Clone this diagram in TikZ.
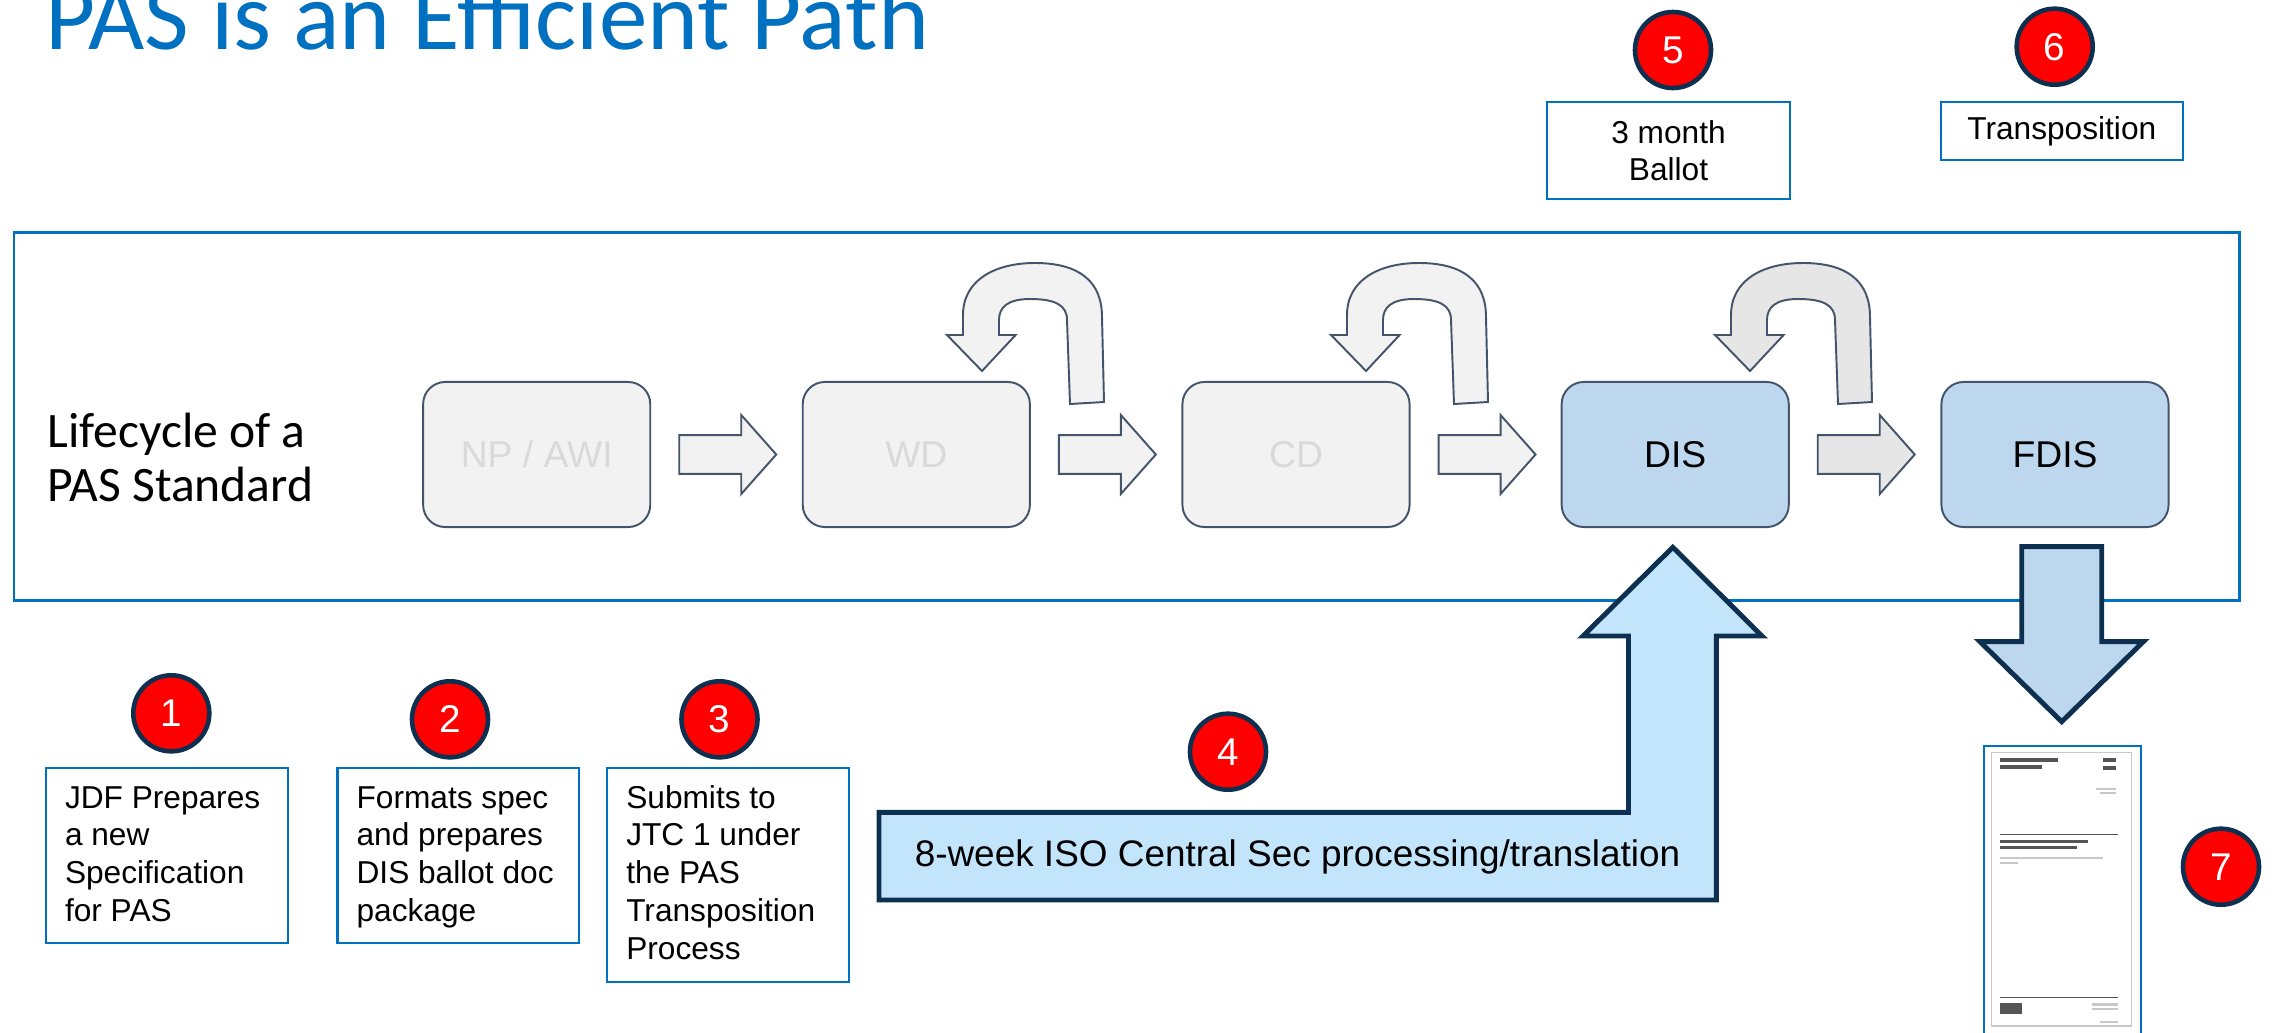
\documentclass[tikz,border=0pt]{standalone}
\usepackage{fontspec}
\setmainfont{Liberation Sans}
\newfontfamily\calib{Carlito}
\usetikzlibrary{calc}
\definecolor{titleblue}{HTML}{0070C0}
\definecolor{boxblue}{HTML}{0070C0}
\definecolor{slate}{HTML}{44546A}
\definecolor{navy}{HTML}{0E3050}
\definecolor{lgray}{HTML}{F2F2F2}
\definecolor{mgray}{HTML}{E6E6E6}
\definecolor{txtgray}{HTML}{D9D9D9}
\definecolor{paleblue}{HTML}{BDD7EE}
\definecolor{skyblue}{HTML}{C3E5FC}
\definecolor{numred}{HTML}{FF0000}
\definecolor{docgray}{HTML}{555555}
\definecolor{docfaint}{HTML}{C8C8C8}
\newcommand\stagearrow[2]{\draw[garrow,fill=#2] ($(#1.east)+(28,-19.3)$) -- ++(62,0) -- ++(0,-20.2) -- ++(35,39.5) -- ++(-35,39.5) -- ++(0,-20.2) -- ++(-62,0) -- cycle;}
\newcommand\uturnarrow[2]{\draw[garrow,fill=#2,shift={(#1,0)}] (1070,404) -- (1067,320) .. controls (1067,305) and (1055,299) .. (1030,299) .. controls (1008,299) and (999,307) .. (999,320) -- (999,335) -- (1015.6,335) -- (982,371) -- (947,335) -- (963,335) -- (963,315) .. controls (963,280) and (995,263) .. (1035,263) .. controls (1080,263) and (1102,282) .. (1102,317) -- (1104,402) -- cycle;}
\begin{document}
\begin{tikzpicture}[x=0.01cm,y=-0.01cm,
 stage/.style={draw=slate,line width=0.55pt,rounded corners=6.3pt,minimum width=2.27cm,minimum height=1.45cm,inner sep=0pt,font=\fontsize{10.6}{12}\selectfont},
 gstage/.style={stage,fill=lgray,text=txtgray},
 bstage/.style={stage,fill=paleblue,text=black},
 garrow/.style={draw=slate,line width=0.55pt,line join=miter},
 numc/.style={circle,draw=navy,line width=1.3pt,fill=numred,text=white,minimum size=0.76cm,inner sep=0pt,font=\fontsize{11}{13}\selectfont},
 note/.style={draw=boxblue,line width=0.6pt,inner sep=0pt},
 notetext/.style={anchor=base west,inner sep=0pt,font=\fontsize{9}{10.8}\selectfont},
 bigarrow/.style={draw=navy,line width=1.4pt,line join=miter},
 docbar/.style={fill=docgray},
 docfaintbar/.style={fill=docfaint}
]
\clip (0,0) rectangle (2275,1033);
\fill[white] (0,0) rectangle (2275,1033);

% title
\node[anchor=base west,inner sep=0pt,text=titleblue,font=\calib\fontsize{27.6}{31}\selectfont] (title) at (45,49) {PAS is an Efficient Path};

% frame
\draw[boxblue,line width=0.85pt] (14,232.7) rectangle (2239.5,600.7);

\node[anchor=base west,inner sep=0pt,font=\calib\fontsize{14.1}{15.6}\selectfont] (life) at (47,447) {\begin{tabular}[t]{@{}l@{}}Lifecycle of a\\PAS Standard\end{tabular}};

% stages
\node[gstage] (np) at (536.7,454.5) {NP / AWI};
\node[gstage] (wd) at (916.3,454.5) {WD};
\node[gstage] (cd) at (1296,454.5) {CD};
\node[bstage] (dis) at (1675.2,454.5) {DIS};
\node[bstage] (fdis) at (2055,454.5) {FDIS};

\stagearrow{np}{lgray}
\stagearrow{wd}{lgray}
\stagearrow{cd}{lgray}
\stagearrow{dis}{mgray}

\uturnarrow{0}{lgray}
\uturnarrow{384}{lgray}
\uturnarrow{768}{mgray}

% top notes
\node[numc] (n5) at (1673,50) {5};
\node[note,minimum width=2.43cm,minimum height=0.973cm,align=center,font=\fontsize{9}{10.5}\selectfont] (b5) at (1668.5,150.4) {3 month\\Ballot};
\node[numc] (n6) at (2054.7,46.7) {6};
\node[note,minimum width=2.415cm,minimum height=0.583cm,font=\fontsize{9}{10.5}\selectfont] (b6) at (2061.8,130.9) {Transposition};

% bottom notes
\node[numc] (n1) at (171.3,713.3) {1};
\node[note,anchor=north west,minimum width=2.416cm,minimum height=1.747cm] (b1) at (44.8,767.3) {};
\node[notetext] (t1) at (64.3,808) {\begin{tabular}[t]{@{}l@{}}JDF Prepares\\a new\\Specification\\for PAS\end{tabular}};

\node[numc] (n2) at (450,719.3) {2};
\node[note,anchor=north west,minimum width=2.41cm,minimum height=1.747cm] (b2) at (336.4,767.3) {};
\node[notetext] (t2) at (355.9,808) {\begin{tabular}[t]{@{}l@{}}Formats spec\\and prepares\\DIS ballot doc\\package\end{tabular}};

\node[numc] (n3) at (719.5,719.3) {3};
\node[note,anchor=north west,minimum width=2.418cm,minimum height=2.134cm] (b3) at (606,767.3) {};
\node[notetext] (t3) at (625.6,808) {\begin{tabular}[t]{@{}l@{}}Submits to\\JTC 1 under\\the PAS\\Transposition\\Process\end{tabular}};

% L-shaped arrow to DIS
\draw[bigarrow,fill=skyblue] (879,812.3) -- (1628.5,812.3) -- (1628.5,636) -- (1583,636) -- (1672.8,547.3) -- (1762,636) -- (1716.4,636) -- (1716.4,900) -- (879,900) -- cycle;
\node[font=\fontsize{10.5}{12}\selectfont,inner sep=0pt] (t4) at (1297.5,857) {8-week ISO Central Sec processing/translation};
\node[numc] (n4) at (1228,751.7) {4};

% down arrow from FDIS
\draw[bigarrow,fill=paleblue] (2021.7,546.7) -- (2101.7,546.7) -- (2101.7,641.7) -- (2143.3,641.7) -- (2061.7,721.7) -- (1980,641.7) -- (2021.7,641.7) -- cycle;

% document
\node[draw=boxblue,line width=0.5pt,fill=white,minimum width=1.567cm,minimum height=3.1cm,anchor=north west,inner sep=0pt] (doc) at (1983.3,745) {};
\draw[docfaint,line width=0.4pt] (1991.7,752.7) rectangle (2131.7,1026);
\fill[docbar] (2000,758) rectangle (2058,761.5);
\fill[docbar] (2000,765) rectangle (2042,768.5);
\fill[docbar] (2103,758) rectangle (2116,762);
\fill[docbar] (2103,766) rectangle (2116,770);
\fill[docfaintbar] (2096,788) rectangle (2116,790);
\fill[docfaintbar] (2100,792) rectangle (2116,794);
\fill[docgray] (2000,834) rectangle (2118,835.2);
\fill[docbar] (2000,840) rectangle (2088,843);
\fill[docbar] (2000,846) rectangle (2077,849);
\fill[docfaintbar] (2000,857) rectangle (2103,859);
\fill[docfaintbar] (2000,862) rectangle (2018,864);
\fill[docgray] (2000,997) rectangle (2118,998.2);
\fill[docbar] (2000,1003) rectangle (2022,1014);
\fill[docfaintbar] (2092,1003) rectangle (2118,1006);
\fill[docfaintbar] (2092,1008) rectangle (2118,1010);
\fill[docfaintbar] (2100,1021) rectangle (2118,1023);

\node[numc] (n7) at (2221,866.7) {7};
\end{tikzpicture}
\end{document}
